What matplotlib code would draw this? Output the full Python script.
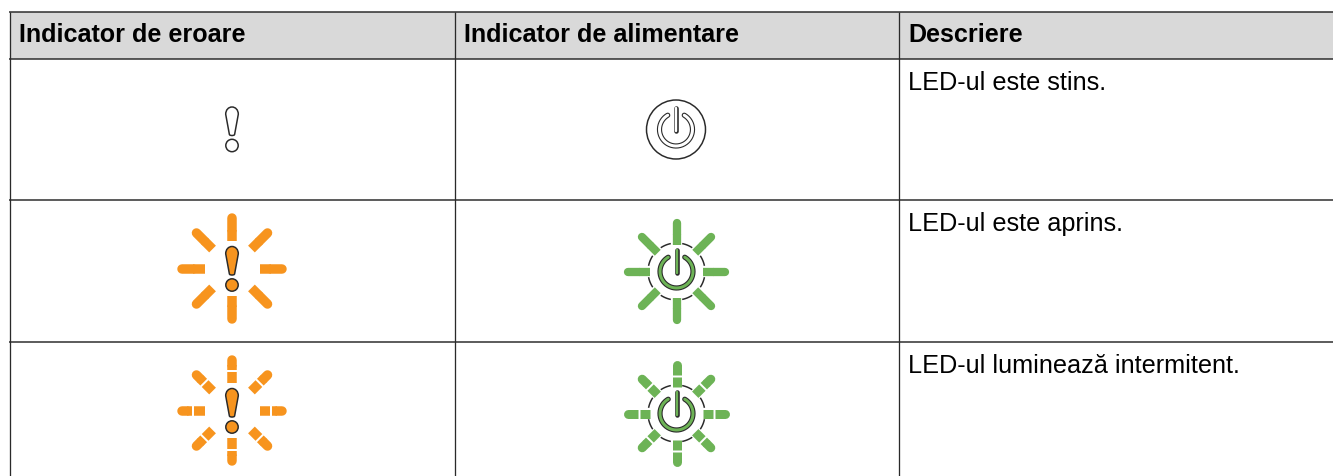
import numpy as np
import matplotlib
matplotlib.use("Agg")
import matplotlib.pyplot as plt
from matplotlib.patches import Circle, Rectangle, PathPatch
from matplotlib.path import Path

plt.rcParams['font.family'] = ['Liberation Sans', 'DejaVu Sans']

W, H = 1333, 477
DARK = "#2a2a2a"
ORANGE = "#F7941E"
GREEN = "#6DB356"

headers = ["Indicator de eroare", "Indicator de alimentare", "Descriere"]
descriptions = ["LED-ul este stins.", "LED-ul este aprins.", "LED-ul luminează intermitent."]
col_lines = [10, 454.5, 898.5]
row_lines = [12.5, 59.5, 200.5, 342.5]
text_x = [19, 464, 908]
error_x = 232
power_x = 676.5
error_y = [None, 269.5, 411.5]
power_y = [130.5, 272.5, 414.5]


def lw(px):
    return px * 72 / 100


fig = plt.figure(figsize=(W / 100, H / 100), dpi=100)
ax = fig.add_axes([0, 0, 1, 1])
ax.set_xlim(0, W)
ax.set_ylim(H, 0)
ax.axis("off")


def rays(cx, cy, r0, r1, width, color, blink=False):
    # eight spokes, flat inside, round outside
    for a in np.arange(8) * np.pi / 4:
        c, s = np.cos(a), np.sin(a)
        if blink:
            rm = r0 + 0.42 * (r1 - r0)
            ax.plot([cx + r0 * c, cx + (rm - 1) * c], [cy + r0 * s, cy + (rm - 1) * s],
                    color=color, lw=lw(width), solid_capstyle="butt")
            start = rm + 1
        else:
            start = r0
        end = r1 - width / 2
        mid = (start + end) / 2
        ax.plot([cx + start * c, cx + mid * c], [cy + start * s, cy + mid * s],
                color=color, lw=lw(width), solid_capstyle="butt")
        ax.plot([cx + mid * c, cx + end * c], [cy + mid * s, cy + end * s],
                color=color, lw=lw(width), solid_capstyle="round")


def exclamation(cx, top, color):
    # drop shape plus the dot underneath
    bot = top + 28.5
    r = 6.3
    m = top + r
    verts = [(cx - 2.6, bot - 1), (cx - r, m + 1), (cx - r, m - r * 0.55), (cx - r * 0.55, top), (cx, top),
             (cx + r * 0.55, top), (cx + r, m - r * 0.55), (cx + r, m + 1), (cx + 2.6, bot - 1),
             (cx + 2, bot), (cx + 1, bot), (cx, bot), (cx - 1, bot), (cx - 2, bot), (cx - 2.6, bot - 1),
             (cx - 2.6, bot - 1)]
    codes = [Path.MOVETO, Path.LINETO, Path.CURVE4, Path.CURVE4, Path.CURVE4, Path.CURVE4, Path.CURVE4,
             Path.CURVE4, Path.LINETO, Path.CURVE4, Path.CURVE4, Path.CURVE4, Path.CURVE4, Path.CURVE4,
             Path.CURVE4, Path.CLOSEPOLY]
    ax.add_patch(PathPatch(Path(verts, codes), facecolor=color, edgecolor=DARK, lw=lw(1.5), zorder=3))
    ax.add_patch(Circle((cx, top + 38.5), 6.2, facecolor=color, edgecolor=DARK, lw=lw(1.5), zorder=3))


def power(cx, cy, color):
    # ring with a gap at the top and the stem, both outlined
    t = np.radians(np.linspace(60, -240, 160))
    xs = cx + 16.5 * np.cos(t)
    ys = cy - 16.5 * np.sin(t)
    ax.plot(xs, ys, color=DARK, lw=lw(5.2), solid_capstyle="round", zorder=3)
    ax.plot(xs, ys, color=color, lw=lw(3), solid_capstyle="round", zorder=4)
    ax.plot([cx, cx], [cy - 22, cy + 1], color=DARK, lw=lw(4.6), solid_capstyle="round", zorder=3)
    ax.plot([cx, cx], [cy - 22, cy + 1], color=color, lw=lw(2.4), solid_capstyle="round", zorder=4)


def dashes(cx, cy, r):
    # one dash in each gap between two spokes
    for a in np.arange(8) * 45 + 22.5:
        t = np.radians(np.linspace(a - 11, a + 11, 20))
        ax.plot(cx + r * np.cos(t), cy + r * np.sin(t), color=DARK, lw=lw(1.5), solid_capstyle="butt", zorder=2)


ax.add_patch(Rectangle((col_lines[0], row_lines[0]), W - col_lines[0], row_lines[1] - row_lines[0],
                       facecolor="#D9D9D9", edgecolor="none"))
for y in row_lines:
    ax.plot([col_lines[0] - 1, W], [y, y], color=DARK, lw=lw(1.5), solid_capstyle="butt")
for x in col_lines:
    ax.plot([x, x], [row_lines[0], H], color=DARK, lw=lw(1.3), solid_capstyle="butt")

for x, label in zip(text_x, headers):
    ax.text(x, 42, label, fontsize=18.1, fontweight="bold", color="#000000", va="baseline", ha="left")
for y, label in zip(row_lines[1:], descriptions):
    ax.text(text_x[2], y + 30.5, label, fontsize=18.2, color="#000000", va="baseline", ha="left")

# row 1: everything off
exclamation(error_x, 108, "white")
ax.add_patch(Circle((power_x - 0.5, power_y[0]), 29.5, facecolor="white", edgecolor=DARK, lw=lw(1.5)))
power(power_x - 0.5, power_y[0], "white")

# row 2: steady, row 3: blinking
for row, blink in [(1, False), (2, True)]:
    rays(error_x, error_y[row], 27.5, 55, 9.5, ORANGE, blink)
    exclamation(error_x, error_y[row] - 22, ORANGE)
    rays(power_x, power_y[row], 26.5, 53, 9 if blink else 8.3, GREEN, blink)
    dashes(power_x, power_y[row], 28.5)
    power(power_x, power_y[row], GREEN)

fig.savefig("out.png", dpi=100, facecolor="white")
